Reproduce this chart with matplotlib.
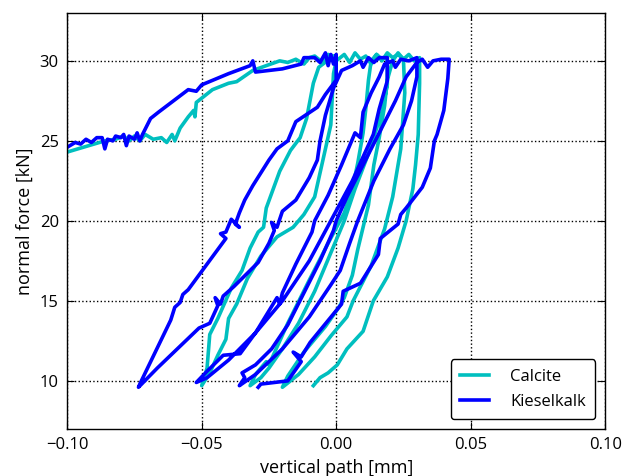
import matplotlib
matplotlib.use("Agg")
import matplotlib.pyplot as plt

plt.rcParams['font.family'] = ['Open Sans', 'DejaVu Sans']

# Calcite (path: initial loading, then loops)
calcite_x = [-0.100, -0.096, -0.090, -0.086, -0.082, -0.079, -0.077, -0.075, -0.073, -0.071, -0.068, -0.065,
             -0.063, -0.061, -0.060, -0.058, -0.055, -0.053, -0.0525, -0.052, -0.046, -0.040, -0.037, -0.031,
             -0.021, -0.018, -0.015, -0.012, -0.010, -0.008, -0.005, -0.003, -0.001,
             # unload 1
             -0.0065, -0.0085, -0.011, -0.0134, -0.017, -0.021, -0.026, -0.027, -0.029, -0.032, -0.035, -0.039,
             -0.044, -0.047, -0.048, -0.050,
             # reload 1
             -0.047, -0.044, -0.041, -0.040, -0.037, -0.033, -0.028, -0.022, -0.016, -0.012, -0.008, -0.005,
             -0.002, -0.001, 0.000, 0.003, 0.005, 0.007, 0.009, 0.011, 0.013, 0.015, 0.017, 0.019,
             # unload 2
             0.019, 0.017, 0.012, 0.007, 0.003, -0.002, -0.008, -0.014, -0.020, -0.025, -0.028, -0.032,
             # reload 2
             -0.030, -0.026, -0.025, -0.018, -0.010, -0.003, 0.003, 0.006, 0.008, 0.010, 0.011, 0.012, 0.013,
             0.015, 0.017, 0.019, 0.021, 0.023, 0.025,
             # unload 3
             0.0255, 0.024, 0.021, 0.018, 0.013, 0.0063, 0.004, -0.002, -0.008, -0.014, -0.020,
             # reload 3
             -0.018, -0.012, -0.004, 0.001, 0.003, 0.006, 0.008, 0.012, 0.014, 0.016, 0.018, 0.019, 0.021,
             0.023, 0.025, 0.027, 0.029, 0.031,
             # unload 4
             0.031, 0.0305, 0.0295, 0.0285, 0.026, 0.023, 0.019, 0.0138, 0.010, 0.004, 0.0004, -0.003, -0.006,
             -0.0085]
calcite_y = [24.3, 24.5, 24.8, 25.0, 25.1, 25.3, 25.0, 25.3, 25.0, 25.4, 25.1, 25.2,
             24.9, 25.4, 25.0, 25.8, 26.5, 26.9, 26.5, 27.4, 28.2, 28.6, 28.7, 29.4,
             30.0, 29.9, 30.1, 29.8, 30.2, 30.3, 29.9, 30.4, 30.3,
             29.6, 28.6, 26.4, 25.2, 24.4, 23.1, 20.8, 19.6, 19.3, 18.3, 16.9, 15.8,
             13.9, 12.9, 10.8, 9.7,
             10.5, 11.6, 12.6, 13.9, 14.8, 16.4, 17.8, 19.0, 19.6, 20.4, 21.5, 23.75,
             26.0, 29.2, 30.0, 30.4, 29.9, 30.5, 30.1, 30.3, 29.8, 30.4, 30.1, 30.3,
             28.5, 26.8, 24.2, 22.0, 20.0, 18.0, 15.6, 13.6, 12.0, 10.8, 10.2, 9.7,
             10.4, 11.2, 11.0, 13.6, 16.3, 18.6, 20.5, 22.0, 23.6, 25.5, 27.0, 28.8, 30.0,
             30.4, 30.0, 30.5, 30.2, 30.4, 30.1,
             28.0, 24.5, 21.5, 19.5, 17.2, 15.0, 14.0, 12.8, 11.5, 10.4, 9.6,
             10.3, 11.8, 13.4, 14.6, 15.2, 16.6, 18.2, 21.0, 23.5, 25.2, 27.2, 28.8, 30.0,
             30.5, 30.1, 30.4, 30.0, 30.2,
             28.6, 25.4, 23.5, 22.0, 20.0, 18.3, 16.5, 15.0, 13.1, 12.0, 11.0, 10.5, 10.2,
             9.7]

# Kieselkalk
kiesel_x = [-0.100, -0.097, -0.095, -0.093, -0.091, -0.089, -0.087, -0.086, -0.085, -0.083, -0.082, -0.080,
            -0.079, -0.078, -0.077, -0.075, -0.074, -0.073, -0.072, -0.069, -0.066, -0.055, -0.052, -0.050,
            -0.040, -0.032, -0.031, -0.030, -0.020, -0.013, -0.012, -0.008, -0.006, -0.004, -0.003, -0.002,
            -0.001, 0.000,
            # unload 1
            0.000, -0.004, -0.007, -0.015, -0.016, -0.018, -0.022, -0.025, -0.031, -0.034, -0.036, -0.0375,
            -0.036, -0.039, -0.041, -0.043, -0.041, -0.055, -0.057, -0.058, -0.060, -0.0615, -0.073, -0.0735,
            # reload 1
            -0.0665, -0.051, -0.047, -0.044, -0.045, -0.043, -0.042, -0.038, -0.029, -0.025, -0.023, -0.024,
            -0.022, -0.020, -0.015, -0.010, -0.007, -0.006, -0.004, -0.001, 0.002, 0.006, 0.009, 0.010, 0.012,
            0.014, 0.016, 0.019,
            # unload 2
            0.019, 0.016, 0.0138, 0.010, 0.006, -0.002, -0.010, -0.020, -0.030, -0.040, -0.048, -0.052,
            # reload 2
            -0.048, -0.042, -0.0357, -0.030, -0.022, -0.021, -0.020, -0.015, -0.009, -0.008, -0.003, 0.002,
            0.007, 0.009, 0.010, 0.013, 0.016, 0.018, 0.021, 0.022, 0.024, 0.027, 0.030,
            # unload 3
            0.030, 0.028, 0.025, 0.020, 0.014, 0.008, 0.005, 0.0015, -0.002, -0.010, -0.020, -0.030, -0.036,
            # reload 3
            -0.034, -0.035, -0.030, -0.024, -0.018, -0.012, -0.006, -0.001, 0.000, 0.004, 0.010, 0.016, 0.022,
            0.026, 0.030, 0.032, 0.034, 0.036, 0.039, 0.042,
            # unload 4
            0.0415, 0.040, 0.0375, 0.0365, 0.035, 0.032, 0.026, 0.024, 0.023, 0.0164, 0.0157, 0.009, 0.0026,
            0.002, -0.0097, -0.013, -0.016, -0.013, -0.018, -0.028, -0.029]
kiesel_y = [24.6, 24.9, 24.8, 25.1, 24.9, 25.2, 25.2, 24.5, 25.1, 25.0, 25.3, 25.2,
            25.4, 24.7, 25.3, 25.1, 25.5, 25.0, 25.4, 26.4, 26.8, 28.2, 28.1, 28.5,
            29.2, 29.7, 30.0, 29.3, 29.5, 29.8, 30.2, 30.2, 29.9, 30.5, 29.7, 30.4,
            29.8, 30.4,
            28.8, 27.9, 27.1, 26.2, 25.8, 25.0, 24.5, 23.8, 22.2, 21.3, 20.5, 19.8,
            19.6, 20.1, 19.3, 19.2, 18.9, 15.7, 15.4, 14.9, 14.6, 13.8, 9.8, 9.6,
            10.8, 13.3, 13.6, 14.7, 15.2, 14.8, 15.3, 15.9, 17.4, 18.6, 19.4, 19.9,
            19.6, 20.6, 21.3, 22.7, 23.8, 25.0, 26.6, 28.3, 29.4, 29.7, 30.0, 29.6, 30.2,
            29.9, 30.2, 30.2,
            28.75, 27.0, 25.4, 24.0, 22.5, 20.0, 17.5, 15.0, 13.0, 11.3, 10.2, 9.9,
            10.6, 11.6, 11.7, 13.0, 15.2, 14.8, 15.5, 17.3, 19.3, 20.0, 21.6, 23.5,
            25.5, 25.2, 26.8, 28.0, 29.0, 29.8, 30.0, 29.6, 30.1, 30.0, 30.2,
            29.0, 27.5, 26.0, 24.5, 22.5, 20.0, 18.6, 16.9, 16.0, 14.0, 12.0, 10.4, 9.7,
            10.2, 10.5, 11.0, 12.0, 13.5, 15.5, 17.5, 19.4, 20.0, 21.5, 23.5, 25.5, 27.5,
            29.0, 29.9, 30.1, 29.6, 30.0, 30.1, 30.1,
            28.9, 26.9, 25.4, 25.0, 23.3, 22.1, 20.8, 20.4, 19.8, 18.9, 17.9, 16.1, 15.6,
            14.8, 12.4, 11.5, 11.8, 11.2, 10.0, 9.8, 9.6]

x_ticks = [-0.10, -0.05, 0.00, 0.05, 0.10]
y_ticks = [10, 15, 20, 25, 30]

fig = plt.figure(figsize=(6.22, 4.76), dpi=100)
ax = fig.add_axes([0.108, 0.099, 0.865, 0.874])
ax.plot(calcite_x, calcite_y, color='c', lw=2.6, label='Calcite')
ax.plot(kiesel_x, kiesel_y, color='b', lw=2.6, label='Kieselkalk')
ax.set_xlim(-0.1, 0.1)
ax.set_ylim(7, 33)
ax.set_xticks(x_ticks)
ax.set_xticklabels(['\u22120.10', '\u22120.05', '0.00', '0.05', '0.10'])
ax.set_yticks(y_ticks)
ax.tick_params(direction='in', top=True, right=True, labelsize=12, length=5, pad=6)
ax.grid(True, color='k', linestyle=':', lw=1)
ax.set_xlabel('vertical path [mm]', fontsize=13)
ax.set_ylabel('normal force [kN]', fontsize=13)
leg = ax.legend(loc='lower right', fontsize=12, handlelength=1.7, fancybox=True,
                edgecolor='k', framealpha=1, borderpad=0.55, labelspacing=0.55, handletextpad=1.3,
                borderaxespad=0.6)
leg.get_frame().set_linewidth(1)
for s in ax.spines.values():
    s.set_linewidth(1)
fig.savefig('out.png', dpi=100)
